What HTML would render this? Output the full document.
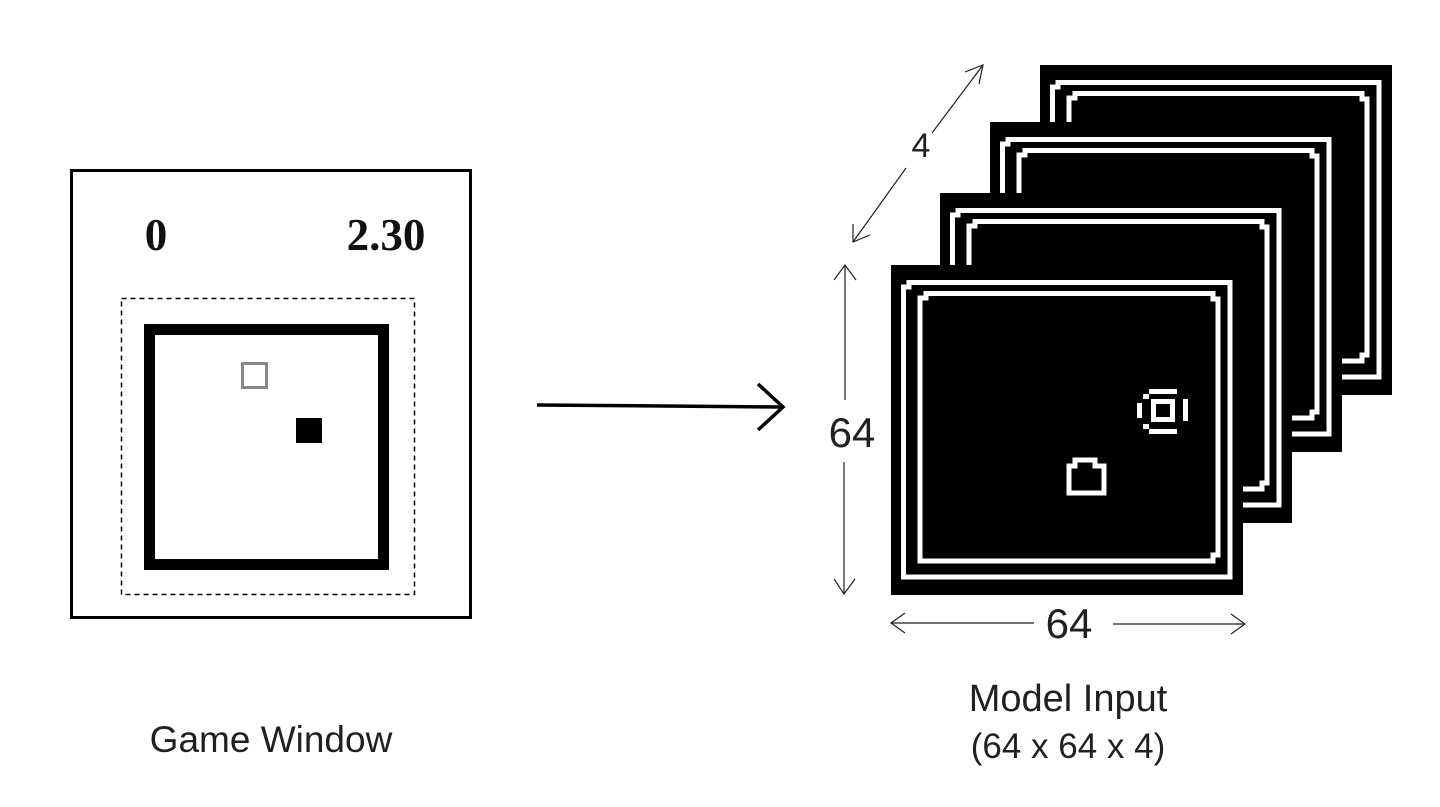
<!DOCTYPE html>
<html><head><meta charset="utf-8"><style>
html,body{margin:0;padding:0;background:#fff;}
svg{display:block;}
.lbl{font-family:"Liberation Sans",sans-serif;fill:#231f20;}
</style></head><body>
<svg width="1440" height="807" viewBox="0 0 1440 807" xmlns="http://www.w3.org/2000/svg">
<defs>
<g id="frame">
<rect x="0" y="0" width="352" height="330" fill="#000"/>
<path d="M12.5 29 V22 H18 V17.5 H339 V312 H12.5 Z" fill="none" stroke="#fff" stroke-width="5"/>
<path d="M29 38 V33 H35 V28.5 H322 V34 H327 V290 H322 V296 H29 Z" fill="none" stroke="#fff" stroke-width="5"/>
</g>
</defs>

<g>
<rect x="71.5" y="170.5" width="399" height="447" fill="#fff" stroke="#000" stroke-width="3"/>
<text x="156" y="250" text-anchor="middle" font-family="Liberation Serif,serif" font-weight="bold" font-size="45" fill="#111">0</text>
<text x="386" y="250" text-anchor="middle" font-family="Liberation Serif,serif" font-weight="bold" font-size="45" fill="#111">2.30</text>
<rect x="121.5" y="298.5" width="293" height="296" fill="none" stroke="#000" stroke-width="1.5" stroke-dasharray="5,4"/>
<rect x="149.5" y="329.5" width="234" height="235" fill="none" stroke="#000" stroke-width="11"/>
<rect x="242.5" y="363.5" width="24" height="24" fill="none" stroke="#888" stroke-width="3"/>
<rect x="296" y="418" width="26" height="25" fill="#000"/>
</g>
<text x="271" y="752" text-anchor="middle" class="lbl" font-size="37">Game Window</text>

<g stroke="#000" stroke-width="3.5" fill="none">
<line x1="537" y1="405" x2="782" y2="407"/>
<polyline points="758,384 783,407 758,430"/>
</g>

<g>
<use href="#frame" x="1040" y="65"/>
<use href="#frame" x="990" y="122"/>
<use href="#frame" x="940" y="193"/>
<g>
<use href="#frame" x="891" y="265"/>
<g fill="#fff">
<rect x="1149" y="389" width="28" height="5"/>
<rect x="1149" y="429" width="28" height="5"/>
<rect x="1143" y="394" width="6" height="5"/>
<rect x="1143" y="424" width="6" height="5"/>
<rect x="1137" y="403" width="5" height="15"/>
<rect x="1183" y="399" width="5" height="22"/>
<rect x="1153.5" y="401.5" width="19" height="18" fill="none" stroke="#fff" stroke-width="5"/>
</g>
<path d="M1069 493 V466 H1075 V460 H1095 V466 H1104 V493 Z" fill="none" stroke="#fff" stroke-width="5"/>
</g>
</g>

<g stroke="#231f20" stroke-width="1.2" fill="none">
<line x1="853" y1="242" x2="906" y2="168"/>
<line x1="932" y1="133" x2="983" y2="65"/>
<polyline points="965,72 983,65 979,84"/>
<polyline points="853,224 853,242 870,235"/>
</g>
<text x="921" y="157" text-anchor="middle" class="lbl" font-size="34">4</text>

<g stroke="#231f20" stroke-width="1.2" fill="none">
<line x1="845" y1="265" x2="845" y2="400"/>
<line x1="844" y1="462" x2="844" y2="594"/>
<polyline points="834,280 845,265 856,280"/>
<polyline points="834,579 844,594 855,579"/>
</g>
<text x="852" y="447" text-anchor="middle" class="lbl" font-size="42">64</text>

<g stroke="#231f20" stroke-width="1.2" fill="none">
<line x1="891" y1="623" x2="1034" y2="623"/>
<line x1="1113" y1="624" x2="1245" y2="624"/>
<polyline points="905,613 891,623 905,633"/>
<polyline points="1231,614 1245,624 1231,634"/>
</g>
<text x="1069" y="638" text-anchor="middle" class="lbl" font-size="42">64</text>

<text x="1068" y="711" text-anchor="middle" class="lbl" font-size="38">Model Input</text>
<text x="1068" y="758" text-anchor="middle" class="lbl" font-size="35">(64 x 64 x 4)</text>
</svg>
</body></html>
